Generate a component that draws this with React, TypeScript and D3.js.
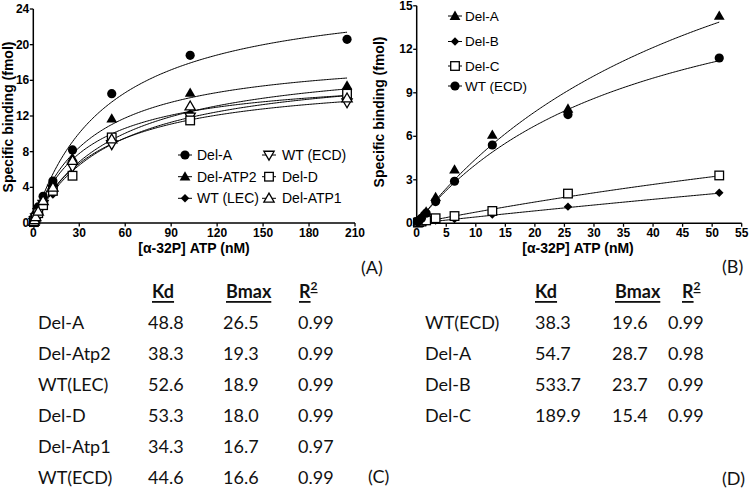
import React from "react";
import * as d3 from "d3";

// ---------- Panel A data ----------
const xA = [0.4, 0.8, 1.6, 3.2, 6.4, 12.8, 25.6, 51.2, 102.4, 204.8];
const seriesA_names = ["Del-A", "Del-ATP2", "WT (LEC)", "WT (ECD)", "Del-D", "Del-ATP1"];
const seriesA_shapes = ["circle", "triangle", "diamond", "triangleDown", "square", "triangleOpen"];
const delA_A = [0.3, 0.5, 1.0, 1.8, 3.0, 4.7, 8.2, 14.5, 18.8, 20.6];
const delATP2_A = [0.2, 0.4, 0.8, 1.5, 2.7, 4.6, 7.3, 11.7, 14.6, 15.4];
const wtLEC_A = [0.15, 0.3, 0.6, 1.1, 2.3, 3.2, 6.8, 9.2, 12.3, 15.0];
const wtECD_A = [0.1, 0.3, 0.6, 1.2, 2.1, 3.8, 6.3, 8.8, 11.9, 13.5];
const delD_A = [0.1, 0.3, 0.6, 1.1, 2.0, 3.6, 5.3, 9.6, 11.5, 14.5];
const delATP1_A = [0.15, 0.35, 0.7, 1.3, 2.5, 4.0, 7.0, 9.4, 13.1, 14.0];
const valuesA = [delA_A, delATP2_A, wtLEC_A, wtECD_A, delD_A, delATP1_A];
const kdA = [48.8, 38.3, 52.6, 44.6, 53.3, 34.3];
const bmaxA = [26.5, 19.3, 18.9, 16.6, 18.0, 16.7];
const xTicksA = [0, 30, 60, 90, 120, 150, 180, 210];
const yTicksA = [0, 4, 8, 12, 16, 20, 24];

// ---------- Panel B data ----------
const xB = [0.2, 0.4, 0.8, 1.6, 3.2, 6.4, 12.8, 25.6, 51.2];
const seriesB_names = ["Del-A", "Del-B", "Del-C", "WT (ECD)"];
const seriesB_shapes = ["triangle", "diamond", "square", "circle"];
const delA_B = [0.1, 0.2, 0.45, 0.8, 1.8, 3.7, 6.1, 7.9, 14.3];
const delB_B = [0.02, 0.04, 0.08, 0.12, 0.2, 0.3, 0.6, 1.15, 2.1];
const delC_B = [0.05, 0.08, 0.12, 0.2, 0.35, 0.5, 0.85, 2.05, 3.3];
const wtECD_B = [0.1, 0.2, 0.35, 0.7, 1.5, 2.9, 5.4, 7.5, 11.4];
const valuesB = [delA_B, delB_B, delC_B, wtECD_B];
const kdB = [54.7, 533.7, 189.9, 38.3];
const bmaxB = [28.7, 23.7, 15.4, 19.6];
const xTicksB = [0, 5, 10, 15, 20, 25, 30, 35, 40, 45, 50, 55];
const yTicksB = [0, 3, 6, 9, 12, 15];

// ---------- Tables ----------
const tableC_names = ["Del-A", "Del-Atp2", "WT(LEC)", "Del-D", "Del-Atp1", "WT(ECD)"];
const tableC_kd = ["48.8", "38.3", "52.6", "53.3", "34.3", "44.6"];
const tableC_bmax = ["26.5", "19.3", "18.9", "18.0", "16.7", "16.6"];
const tableC_r2 = ["0.99", "0.99", "0.99", "0.99", "0.97", "0.99"];
const tableD_names = ["WT(ECD)", "Del-A", "Del-B", "Del-C"];
const tableD_kd = ["38.3", "54.7", "533.7", "189.9"];
const tableD_bmax = ["19.6", "28.7", "23.7", "15.4"];
const tableD_r2 = ["0.99", "0.98", "0.99", "0.99"];

const AX_FONT = "'Liberation Sans', Arial, sans-serif";
const TB_FONT = "Lato, 'Open Sans', sans-serif";

function Marker({ shape, x, y }: { shape: string; x: number; y: number }) {
  const sw = 1.3;
  switch (shape) {
    case "circle":
      return <circle cx={x} cy={y} r={4.6} fill="#000" />;
    case "triangle":
      return <path d={d3.symbol(d3.symbolTriangle, 50)()!} transform={`translate(${x},${y + 0.8})`} fill="#000" />;
    case "triangleOpen":
      return <path d={d3.symbol(d3.symbolTriangle, 46)()!} transform={`translate(${x},${y + 0.8})`} fill="#fff" stroke="#000" strokeWidth={sw} />;
    case "triangleDown":
      return <path d={d3.symbol(d3.symbolTriangle, 46)()!} transform={`translate(${x},${y - 0.8}) rotate(180)`} fill="#fff" stroke="#000" strokeWidth={sw} />;
    case "diamond":
      return <path d={d3.symbol(d3.symbolSquare, 36)()!} transform={`translate(${x},${y}) rotate(45)`} fill="#000" />;
    case "square":
      return <rect x={x - 4.3} y={y - 4.3} width={8.6} height={8.6} fill="#fff" stroke="#000" strokeWidth={sw} />;
    default:
      return null;
  }
}

function LegendItem({ shape, name, x, y, tx, size }: { shape: string; name: string; x: number; y: number; tx: number; size: number }) {
  return (
    <g>
      <line x1={x - 7} x2={x + 7} y1={y} y2={y} stroke="#000" strokeWidth={1} />
      <Marker shape={shape} x={x} y={y} />
      <text x={tx} y={y} dominantBaseline="central" fontFamily={AX_FONT} fontSize={size}>{name}</text>
    </g>
  );
}

function Axes({
  x, y, xTicks, yTicks, xLabelX, yLabelX, yLabelY,
}: {
  x: d3.ScaleLinear<number, number>; y: d3.ScaleLinear<number, number>;
  xTicks: number[]; yTicks: number[]; xLabelX: number; yLabelX: number; yLabelY: number;
}) {
  const [x0, x1] = x.range();
  const [y0, y1] = y.range();
  return (
    <g fontFamily={AX_FONT} fontWeight="bold">
      <line x1={x0} x2={x1} y1={y0} y2={y0} stroke="#000" strokeWidth={1.5} />
      <line x1={x0} x2={x0} y1={y0} y2={y1} stroke="#000" strokeWidth={1.5} />
      {xTicks.map((t) => (
        <g key={"x" + t}>
          <line x1={x(t)} x2={x(t)} y1={y0} y2={y0 + 3.5} stroke="#000" strokeWidth={1.3} />
          <text x={x(t)} y={233} textAnchor="middle" dominantBaseline="central" fontSize={12}>{t}</text>
        </g>
      ))}
      {yTicks.map((t) => (
        <g key={"y" + t}>
          <line x1={x0 - 3.5} x2={x0} y1={y(t)} y2={y(t)} stroke="#000" strokeWidth={1.3} />
          <text x={x0 - 4} y={y(t)} textAnchor="end" dominantBaseline="central" fontSize={12}>{t}</text>
        </g>
      ))}
      <text x={xLabelX} y={248} textAnchor="middle" dominantBaseline="central" fontSize={14}>[α-32P] ATP (nM)</text>
      <text transform={`translate(${yLabelX},${yLabelY}) rotate(-90)`} textAnchor="middle" dominantBaseline="central" fontSize={14}>Specific binding (fmol)</text>
    </g>
  );
}

function Panel({
  x, y, xs, values, kds, bmaxs, shapes, xMax,
}: {
  x: d3.ScaleLinear<number, number>; y: d3.ScaleLinear<number, number>;
  xs: number[]; values: number[][]; kds: number[]; bmaxs: number[]; shapes: string[]; xMax: number;
}) {
  const samples = d3.range(0, 201).map((i) => (xMax * i) / 200);
  return (
    <g>
      {kds.map((kd, i) => {
        const line = d3.line<number>().x((v) => x(v)).y((v) => y((bmaxs[i] * v) / (kd + v)));
        return <path key={"c" + i} d={line(samples)!} fill="none" stroke="#000" strokeWidth={1} />;
      })}
      {values.map((vals, i) =>
        vals.map((v, j) => <Marker key={`m${i}-${j}`} shape={shapes[i]} x={x(xs[j])} y={y(v)} />)
      )}
    </g>
  );
}

function Table({
  names, kd, bmax, r2, cols, hcols, label, labelX, labelY,
}: {
  names: string[]; kd: string[]; bmax: string[]; r2: string[];
  cols: number[]; hcols: number[]; label: string; labelX: number; labelY: number;
}) {
  const rowY = d3.scaleLinear().domain([0, 5]).range([322, 477]);
  return (
    <g fontFamily={TB_FONT} fontSize={18} fill="#111">
      <g fontWeight="bold">
        <text x={hcols[0]} y={291} dominantBaseline="central" style={{ textDecoration: "underline" }}>Kd</text>
        <text x={hcols[1]} y={291} dominantBaseline="central" style={{ textDecoration: "underline" }}>Bmax</text>
        <text x={hcols[2]} y={291} dominantBaseline="central" style={{ textDecoration: "underline" }}>
          R<tspan fontSize={12} dy={-6}>2</tspan>
        </text>
      </g>
      {names.map((n, i) => (
        <g key={n}>
          <text x={cols[0]} y={rowY(i)} dominantBaseline="central">{n}</text>
          <text x={cols[1]} y={rowY(i)} dominantBaseline="central">{kd[i]}</text>
          <text x={cols[2]} y={rowY(i)} dominantBaseline="central">{bmax[i]}</text>
          <text x={cols[3]} y={rowY(i)} dominantBaseline="central">{r2[i]}</text>
        </g>
      ))}
      <text x={labelX} y={labelY} dominantBaseline="central">{label}</text>
    </g>
  );
}

export default function App() {
  const xa = d3.scaleLinear().domain([0, 210]).range([33.3, 355]);
  const ya = d3.scaleLinear().domain([0, 24]).range([223, 9]);
  const xb = d3.scaleLinear().domain([0, 55]).range([416.7, 741.7]);
  const yb = d3.scaleLinear().domain([0, 15]).range([223.3, 5.8]);

  const legA = [
    { x: 185, tx: 197, y: 155 }, { x: 185, tx: 197, y: 176.7 }, { x: 185, tx: 197, y: 198.3 },
    { x: 269, tx: 282, y: 155 }, { x: 269, tx: 282, y: 176.7 }, { x: 269, tx: 282, y: 198.3 },
  ];
  const legBY = [16, 41.5, 66, 86];

  return (
    <svg width={750} height={491} style={{ position: "absolute", left: 0, top: 0, background: "#fff" }}>
      <rect width={750} height={491} fill="#fff" />
      <Axes x={xa} y={ya} xTicks={xTicksA} yTicks={yTicksA} xLabelX={194} yLabelX={8} yLabelY={117} />
      <Panel x={xa} y={ya} xs={xA} values={valuesA} kds={kdA} bmaxs={bmaxA} shapes={seriesA_shapes} xMax={204.8} />
      {seriesA_names.map((n, i) => (
        <LegendItem key={n} shape={seriesA_shapes[i]} name={n} x={legA[i].x} y={legA[i].y} tx={legA[i].tx} size={14} />
      ))}

      <Axes x={xb} y={yb} xTicks={xTicksB} yTicks={yTicksB} xLabelX={578} yLabelX={379} yLabelY={112} />
      <Panel x={xb} y={yb} xs={xB} values={valuesB} kds={kdB} bmaxs={bmaxB} shapes={seriesB_shapes} xMax={51.2} />
      {seriesB_names.map((n, i) => (
        <LegendItem key={n} shape={seriesB_shapes[i]} name={n} x={455} y={legBY[i]} tx={465} size={13.5} />
      ))}

      <text x={361} y={267} dominantBaseline="central" fontFamily={TB_FONT} fontSize={18} fill="#111">(A)</text>
      <text x={722} y={266} dominantBaseline="central" fontFamily={TB_FONT} fontSize={18} fill="#111">(B)</text>

      <Table names={tableC_names} kd={tableC_kd} bmax={tableC_bmax} r2={tableC_r2}
        cols={[38, 148, 223, 298]} hcols={[152, 226, 299]} label="(C)" labelX={368} labelY={476} />
      <Table names={tableD_names} kd={tableD_kd} bmax={tableD_bmax} r2={tableD_r2}
        cols={[425, 535, 612, 668]} hcols={[535, 615, 682]} label="(D)" labelX={722} labelY={478} />
    </svg>
  );
}
